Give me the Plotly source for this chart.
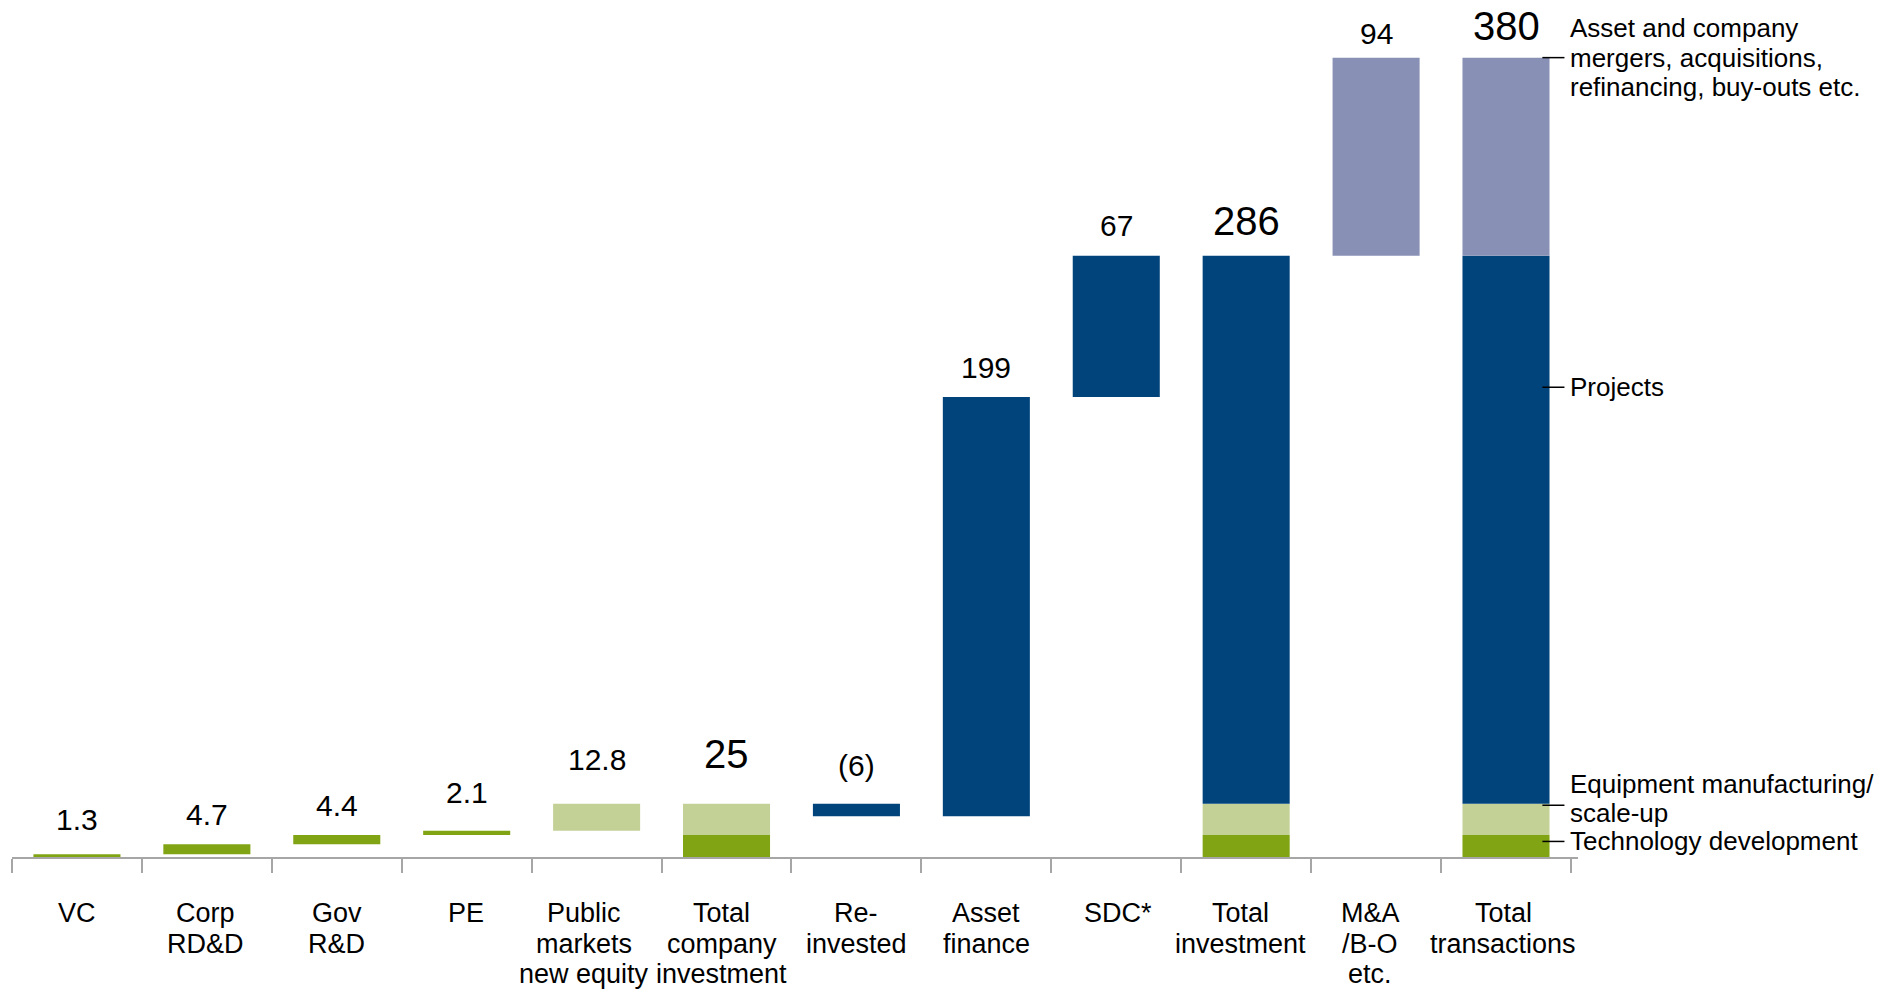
import plotly.graph_objects as go

# waterfall of clean energy investment flows ($bn)
categories = ["VC", "Corp<br>RD&D", "Gov<br>R&D", "PE", "Public<br>markets<br>new equity",
              "Total<br>company<br>investment", "Re-<br>invested", "Asset<br>finance", "SDC*",
              "Total<br>investment", "M&A<br>/B-O<br>etc.", "Total<br>transactions"]
# None = a total bar, stacked from the segments so far
steps = [1.3, 4.7, 4.4, 2.1, 12.8, None, -6, 199, 67, None, 94, None]
step_segment = ["tech", "tech", "tech", "scale", "scale", None,
                "projects", "projects", "projects", None, "ma", None]
value_labels = ["1.3", "4.7", "4.4", "2.1", "12.8", "25", "(6)", "199", "67", "286", "94", "380"]
is_total_label = [False, False, False, False, False, True, False, False, False, True, False, True]

segments = ["tech", "scale", "projects", "ma"]
segment_names = ["Technology development",
                 "Equipment manufacturing/<br>scale-up",
                 "Projects",
                 "Asset and company<br>mergers, acquisitions,<br>refinancing, buy-outs etc."]

DKGREEN = "#80A413"
LTGREEN = "#C3D197"
BLUE = "#00447B"
LAVENDER = "#8891B5"
seg_colors = {"tech": DKGREEN, "scale": LTGREEN, "projects": BLUE, "ma": LAVENDER}
step_colors = [DKGREEN, DKGREEN, DKGREEN, DKGREEN, LTGREEN, None, BLUE, BLUE, BLUE, None, LAVENDER, None]
label_lift = [6, 1, 1, 10, 16, 16, 10, 1, 2, 1, -4, -2]   # px, value label nudges
cat_nudge = [0, -1, 0, -1, -13, -5, 0, 0, 2, -6, -6, -3]  # px, category label nudges
leader_frac = [0.71, 0.95, 0.76, 1.0]   # where the side labels point, within each segment
side_text_lift = [0, 7, 0, 0]
FONT = "Liberation Sans, Arial, sans-serif"

# build bars
bx, bbase, by, bcol = [], [], [], []
tops = []
level = 0.0
seg_sum = {s: 0.0 for s in segments}
last_stack = {}
for cat, v, seg, col in zip(categories, steps, step_segment, step_colors):
    if v is None:
        b = 0.0
        for s in segments:
            if seg_sum[s] != 0:
                bx.append(cat); bbase.append(b); by.append(seg_sum[s]); bcol.append(seg_colors[s])
                last_stack[s] = (b, seg_sum[s])
                b += seg_sum[s]
        tops.append(b)
    else:
        base = level if v > 0 else level + v
        bx.append(cat); bbase.append(base); by.append(abs(v)); bcol.append(col)
        level += v
        seg_sum[seg] += v
        tops.append(base + abs(v))

fig = go.Figure(go.Bar(x=bx, y=by, base=bbase, marker=dict(color=bcol, line=dict(width=0)),
                       hoverinfo="skip"))

# value labels above bars
for cat, top, lab, big, lift in zip(categories, tops, value_labels, is_total_label, label_lift):
    fig.add_annotation(x=cat, y=top, text=lab, showarrow=False, yanchor="bottom",
                       yshift=10 + lift, font=dict(size=40 if big else 30, color="black", family=FONT))

# category labels, one annotation per line for tight spacing
for cat, dx in zip(categories, cat_nudge):
    for i, line in enumerate(cat.split("<br>")):
        fig.add_annotation(x=cat, y=0, yref="paper", text=line, showarrow=False,
                           yanchor="middle", yshift=-(56 + i * 30.5), xshift=dx,
                           font=dict(size=27, color="black", family=FONT))

# side labels with short leader lines at the last total bar
n = len(categories) - 1
for s, name, frac, lift in zip(segments, segment_names, leader_frac, side_text_lift):
    b, h = last_stack[s]
    yl = b + frac * h
    fig.add_shape(type="line", x0=n + 0.28, x1=n + 0.45, y0=yl, y1=yl,
                  line=dict(color="black", width=1.5))
    lines = name.split("<br>")
    for i, line in enumerate(lines):
        off = (i - (len(lines) - 1) / 2) * 29.5
        fig.add_annotation(x=1.0, xref="paper", y=yl, text=line, showarrow=False,
                           xanchor="left", yanchor="middle", yshift=lift - off, xshift=-10,
                           font=dict(size=26, color="black", family=FONT))

# page body keeps an 8px margin, so margins are pulled in to compensate
fig.update_layout(
    width=1889, height=989,
    margin=dict(l=4, r=319, t=6, b=140),
    plot_bgcolor="white", paper_bgcolor="white",
    barmode="overlay", bargap=0.33, showlegend=False,
    font=dict(family=FONT, color="black"),
)
fig.update_xaxes(type="category", categoryarray=categories, showticklabels=False,
                 showline=True, linecolor="#A6A6A6", linewidth=1.5,
                 ticks="outside", tickson="boundaries", ticklen=14, tickcolor="#A6A6A6",
                 tickwidth=1.5, showgrid=False, zeroline=False)
fig.update_yaxes(range=[0, 400], visible=False, showgrid=False, zeroline=False)

fig.write_html("out.html")
